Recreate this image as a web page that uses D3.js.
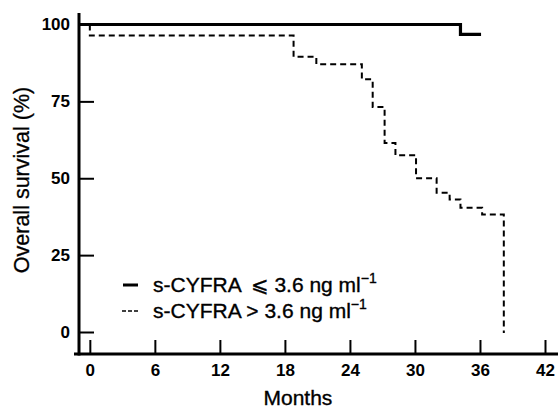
<!DOCTYPE html>
<html>
<head>
<meta charset="utf-8">
<script src="https://cdn.jsdelivr.net/npm/d3@7"></script>
<style>
  body { margin: 0; background: #fff; }
  text { font-family: "Liberation Sans", Arial, sans-serif; fill: #000; }
</style>
</head>
<body>
<script>
// survival data (months, % surviving after the step)
const lowTimes = [0, 34.2, 36.1];
const lowValues = [100, 96.8, 96.8];
const highTimes = [0, 0, 18.8, 20.9, 25.1, 26.1, 27.2, 28.2, 30.1, 32.0, 33.2, 34.2, 36.2, 38.2, 38.2];
const highValues = [100, 96.4, 89.5, 87.1, 82.2, 73.2, 61.5, 57.5, 50.0, 45.3, 43.1, 40.4, 38.2, 38.2, -0.3];
const xTicks = [0, 6, 12, 18, 24, 30, 36, 42];
const yTicks = [0, 25, 50, 75, 100];
const legendLabels = ['s-CYFRA \u2009\u2A7D 3.6 ng ml', 's-CYFRA > 3.6 ng ml'];

const width = 558, height = 410;
const svg = d3.select('body').append('svg')
  .attr('width', width)
  .attr('height', height);

const x = d3.scaleLinear().domain([-1, 43.2]).range([79, 558]);
const y = d3.scaleLinear().domain([0, 100]).range([332, 24.5]);
const axisY = 354;

// y axis
const yAxis = svg.append('g')
  .attr('transform', `translate(${x(-1)},0)`)
  .call(d3.axisLeft(y).tickValues(yTicks).tickSize(-15).tickPadding(9));
yAxis.select('.domain').remove();
yAxis.selectAll('line').attr('stroke', '#000').attr('stroke-width', 2);
yAxis.selectAll('text').attr('font-size', 17).attr('font-weight', 'bold')
  .attr('font-family', '"Liberation Sans", Arial, sans-serif');

// x axis
const xAxis = svg.append('g')
  .attr('transform', `translate(0,${axisY})`)
  .call(d3.axisBottom(x).tickValues(xTicks).tickSize(-14).tickPadding(10));
xAxis.select('.domain').remove();
xAxis.selectAll('line').attr('stroke', '#000').attr('stroke-width', 2);
xAxis.selectAll('text').attr('font-size', 17).attr('font-weight', 'bold')
  .attr('font-family', '"Liberation Sans", Arial, sans-serif');

// axis lines
svg.append('line')
  .attr('x1', x(-1)).attr('x2', x(-1))
  .attr('y1', 13).attr('y2', axisY + 1.5)
  .attr('stroke', '#000').attr('stroke-width', 3);
svg.append('line')
  .attr('x1', 74).attr('x2', width)
  .attr('y1', axisY).attr('y2', axisY)
  .attr('stroke', '#000').attr('stroke-width', 3);

// step curves
const step = d3.line()
  .x(d => x(d[0]))
  .y(d => y(d[1]))
  .curve(d3.curveStepAfter);

const lowData = lowTimes.map((t, i) => [t, lowValues[i]]);
lowData.unshift([-1, 100]);
const highData = highTimes.map((t, i) => [t, highValues[i]]);

svg.append('path')
  .datum(highData)
  .attr('d', step)
  .attr('fill', 'none')
  .attr('stroke', '#000')
  .attr('stroke-width', 2)
  .attr('stroke-dasharray', '6,4');

svg.append('path')
  .datum(lowData)
  .attr('d', step)
  .attr('fill', 'none')
  .attr('stroke', '#000')
  .attr('stroke-width', 3.2);

// legend
const legend = svg.append('g');
const legendY = [285, 311];
legend.append('line')
  .attr('x1', 123).attr('x2', 138)
  .attr('y1', legendY[0]).attr('y2', legendY[0])
  .attr('stroke', '#000').attr('stroke-width', 3);
legend.append('line')
  .attr('x1', 122).attr('x2', 138)
  .attr('y1', legendY[1]).attr('y2', legendY[1])
  .attr('stroke', '#000').attr('stroke-width', 1.5)
  .attr('stroke-dasharray', '4,2');

legendLabels.forEach((lab, i) => {
  const t = legend.append('text')
    .attr('x', 153)
    .attr('y', legendY[i] + 7)
    .attr('font-size', 21)
    .attr('stroke', '#000')
    .attr('stroke-width', 0.35);
  t.append('tspan').text(lab);
  t.append('tspan').attr('dy', -9).attr('font-size', 14).text('\u22121');
});

// axis titles
svg.append('text')
  .attr('x', x(19.2))
  .attr('y', 405)
  .attr('text-anchor', 'middle')
  .attr('font-size', 21)
  .attr('stroke', '#000')
  .attr('stroke-width', 0.35)
  .text('Months');

svg.append('text')
  .attr('transform', 'translate(29,180) rotate(-90)')
  .attr('text-anchor', 'middle')
  .attr('font-size', 21.5)
  .attr('stroke', '#000')
  .attr('stroke-width', 0.3)
  .text('Overall survival (%)');
</script>
</body>
</html>
